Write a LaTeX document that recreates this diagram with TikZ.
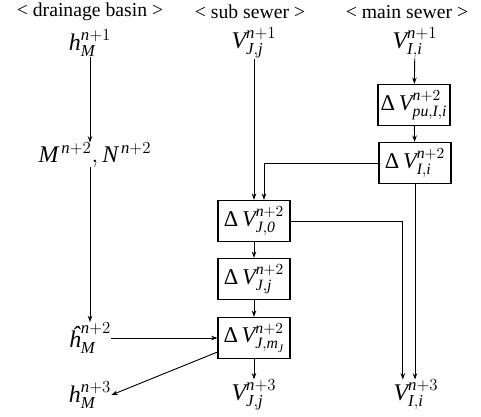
\documentclass[tikz,border=0pt]{standalone}
\usepackage{amsmath}
\usepackage{fontspec}
\setmainfont{Liberation Serif}
\usepackage{tikz}
\usetikzlibrary{arrows.meta,positioning}

\begin{document}
\begin{tikzpicture}[
    x=0.025cm, y=-0.025cm,
    every node/.style={font=\fontsize{14}{16}\selectfont, inner sep=1pt},
    box/.style={draw, line width=0.75pt, minimum width=1.8cm, minimum height=1.03cm, inner sep=1pt,
      font=\fontsize{16}{18}\selectfont},
    var/.style={inner sep=0pt, font=\fontsize{17}{19}\selectfont},
    arr/.style={-{Stealth[length=4.5pt,width=3.2pt]}, line width=0.65pt},
  ]
  \useasboundingbox (0,0) rectangle (481,416);
  % column headers
  \node[inner sep=0pt] (hdrbasin) at (90,12)  {< drainage basin >};
  \node[inner sep=0pt] (hdrsub)   at (250,12) {< sub sewer >};
  \node[inner sep=0pt] (hdrmain)  at (407,12) {< main sewer >};
  % drainage basin
  \node[var] (hM1) at (90,43)  {$\mathit{h}^{\mathit{n}+1}_{\mathit{M}}$};
  \node[var] (MN)  at (95,155) {$\mathit{M}^{\,\mathit{n}+2}, \mathit{N}^{\,\mathit{n}+2}$};
  \node[var] (hM2) at (90,338) {$\textit{ĥ}^{\mathit{n}+2}_{\mathit{M}}$};
  \node[var] (hM3) at (90,395) {$\mathit{h}^{\mathit{n}+3}_{\mathit{M}}$};
  % sub sewer
  \node[var] (VJ1) at (254,43)  {$\mathit{V}^{\mathit{n}+1}_{\mathit{J,j}}$};
  \node[box] (dVJ0) at (254,221) {Δ\,$\mathit{V}^{\mathit{n}+2}_{\mathit{J,0}}$};
  \node[box] (dVJj) at (254,279) {Δ\,$\mathit{V}^{\mathit{n}+2}_{\mathit{J,j}}$};
  \node[box] (dVJm) at (254,338) {Δ\,$\mathit{V}^{\mathit{n}+2}_{\mathit{J,m}_{\mathit{J}}}$};
  \node[var] (VJ3) at (254,395) {$\mathit{V}^{\mathit{n}+3}_{\mathit{J,j}}$};
  % main sewer
  \node[var] (VI1) at (415,43)  {$\mathit{V}^{\mathit{n}+1}_{\mathit{I,i}}$};
  \node[box] (dVpu) at (414,105) {Δ\,$\mathit{V}^{\mathit{n}+2}_{\mathit{pu,I,i}}$};
  \node[box] (dVI)  at (415,163) {Δ\,$\mathit{V}^{\mathit{n}+2}_{\mathit{I,i}}$};
  \node[var] (VI3) at (416,395) {$\mathit{V}^{\mathit{n}+3}_{\mathit{I,i}}$};

  \draw[arr] (hM1.south) -- (hM1.south |- MN.north);
  \draw[arr] (hM2.north |- MN.south) -- (hM2.north);
  \draw[arr] (hM2.east) -- (hM2.east -| dVJm.west);
  \draw[arr] ([yshift=-0.35cm]dVJm.west) -- (hM3.east);

  \draw[arr] (VJ1.south) -- (dVJ0.north);
  \draw[arr] (dVJ0) -- (dVJj);
  \draw[arr] (dVJj) -- (dVJm);
  \draw[arr] (dVJm) -- (VJ3);

  \draw[arr] (VI1) -- (dVpu);
  \draw[arr] (dVpu) -- (dVI);
  \draw[arr] (dVI.west) -| ([xshift=0.25cm]dVJ0.north);
  \draw[arr] (dVI.south) -- (dVI.south |- VI3.north);
  \draw[arr] (dVJ0.east) -| ([xshift=-0.33cm]VI3.north);
\end{tikzpicture}
\end{document}
